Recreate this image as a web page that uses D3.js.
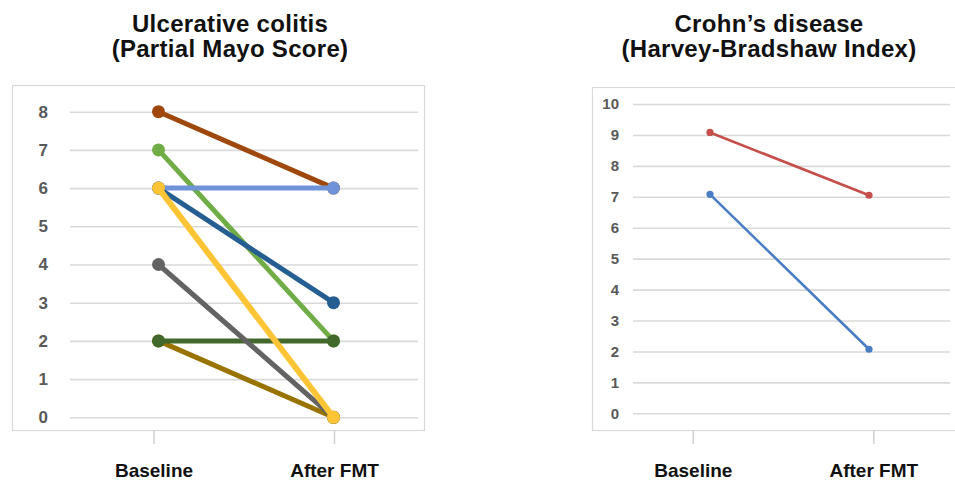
<!DOCTYPE html>
<html>
<head>
<meta charset="utf-8">
<script src="https://cdn.jsdelivr.net/npm/d3@7"></script>
<style>
  html, body { margin: 0; padding: 0; background: #fff; }
  svg { display: block; font-family: "Liberation Sans", Arial, sans-serif; }
</style>
</head>
<body>
<svg id="chart" width="955" height="482"></svg>
<script>
// ---- data ----
const timepoints = ["Baseline", "After FMT"];

// Ulcerative colitis (Partial Mayo Score), one entry per patient
const ucPatients = ["UC1", "UC2", "UC3", "UC4", "UC5", "UC6", "UC7", "UC8"];
const ucBaseline = [7, 8, 6, 6, 2, 2, 4, 6];
const ucAfter    = [2, 6, 6, 3, 0, 2, 0, 0];
const ucTicks = [0, 1, 2, 3, 4, 5, 6, 7, 8];

// Crohn's disease (Harvey-Bradshaw Index)
const cdPatients = ["CD1", "CD2"];
const cdBaseline = [9.08, 7.08];
const cdAfter    = [7.05, 2.07];
const cdTicks = [0, 1, 2, 3, 4, 5, 6, 7, 8, 9, 10];

const ucTitle = ["Ulcerative colitis", "(Partial Mayo Score)"];
const cdTitle = ["Crohn\u2019s disease", "(Harvey-Bradshaw Index)"];

// ---- styles ----
const ucColors = ["#70ad47", "#9e480e", "#6e93d8", "#255e91", "#997300", "#43682b", "#636363", "#fdc535"];
const ucWidths = [5, 5, 5, 5, 5, 5, 5, 6];
const cdColors = ["#c5504b", "#4a7ec4"];
const cdWidths = [2.6, 2.6];

const svg = d3.select("#chart");

function panel(cfg) {
  const g = svg.append("g");
  // frame
  g.append("rect")
    .attr("x", cfg.frame[0] + 0.5).attr("y", cfg.frame[1] + 0.5)
    .attr("width", cfg.frame[2] - cfg.frame[0]).attr("height", cfg.frame[3] - cfg.frame[1])
    .attr("fill", "none").attr("stroke", "#d9d9d9").attr("stroke-width", 1.2);

  const y = d3.scaleLinear().domain([0, cfg.ymax]).range([cfg.y0, cfg.yTop]);
  const xTick = d3.scalePoint().domain(timepoints).range(cfg.tickX);
  const xMark = d3.scalePoint().domain(timepoints).range(cfg.markX);

  // gridlines
  const grid = g.append("g").attr("transform", `translate(${cfg.gridX[0]},0)`)
    .call(d3.axisLeft(y).tickValues(cfg.ticks).tickSize(-(cfg.gridX[1] - cfg.gridX[0])).tickFormat(""));
  grid.select(".domain").remove();
  grid.selectAll(".tick line").attr("stroke", "#d9d9d9").attr("stroke-width", 1.6);

  // y labels
  const yl = g.append("g").attr("transform", `translate(${cfg.labelX},0)`)
    .call(d3.axisLeft(y).tickValues(cfg.ticks).tickSize(0).tickPadding(0));
  yl.select(".domain").remove();
  yl.selectAll("text").attr("fill", "#595959").attr("font-size", cfg.yFont)
    .attr("font-weight", "bold").attr("font-family", "'Liberation Sans', Arial, sans-serif");

  // x ticks and labels
  const xa = g.append("g").attr("transform", `translate(0,${cfg.frame[3] + 1})`)
    .call(d3.axisBottom(xTick).tickSize(13).tickPadding(0));
  xa.select(".domain").remove();
  xa.selectAll(".tick line").attr("stroke", "#d0d0d0").attr("stroke-width", 1.5);
  xa.selectAll("text").attr("fill", "#111").attr("font-size", 19).attr("font-weight", "bold")
    .attr("font-family", "'Liberation Sans', Arial, sans-serif")
    .attr("y", 477 - cfg.frame[3] - 1).attr("dy", null);

  // title
  const t = g.append("text").attr("text-anchor", "middle").attr("fill", "#111")
    .attr("font-size", 24).attr("font-weight", "bold").attr("letter-spacing", 0.3);
  cfg.title.forEach((line, i) => {
    t.append("tspan").attr("x", cfg.titleX).attr("y", 32 + i * 25).text(line);
  });

  // series
  const data = cfg.names.map((n, i) => ({ name: n, vals: [cfg.base[i], cfg.after[i]], color: cfg.colors[i], w: cfg.widths[i] }));
  const line = d3.line().x((d, i) => xMark(timepoints[i])).y(d => y(d));
  const sg = g.append("g").selectAll("g").data(data).join("g");
  sg.append("path").attr("d", d => line(d.vals)).attr("fill", "none")
    .attr("stroke", d => d.color).attr("stroke-width", d => d.w).attr("stroke-linecap", "round");
  sg.selectAll("circle").data(d => d.vals.map((v, i) => ({ v, i, color: d.color }))).join("circle")
    .attr("cx", d => xMark(timepoints[d.i])).attr("cy", d => y(d.v))
    .attr("r", cfg.r).attr("fill", d => d.color);
}

panel({
  frame: [12, 85, 424, 430],
  ymax: 8, y0: 417.3, yTop: 111.7,
  tickX: [153.5, 334], markX: [158.5, 333.5],
  gridX: [70, 418], labelX: 48, yFont: 17,
  ticks: ucTicks, title: ucTitle, titleX: 230,
  names: ucPatients, base: ucBaseline, after: ucAfter, colors: ucColors, widths: ucWidths,
  r: 6.5
});

panel({
  frame: [592, 87, 965, 430],
  ymax: 10, y0: 413.3, yTop: 104,
  tickX: [692.8, 873.3], markX: [710, 869],
  gridX: [633, 950], labelX: 619, yFont: 15,
  ticks: cdTicks, title: cdTitle, titleX: 769,
  names: cdPatients, base: cdBaseline, after: cdAfter, colors: cdColors, widths: cdWidths,
  r: 3.6
});
</script>
</body>
</html>
